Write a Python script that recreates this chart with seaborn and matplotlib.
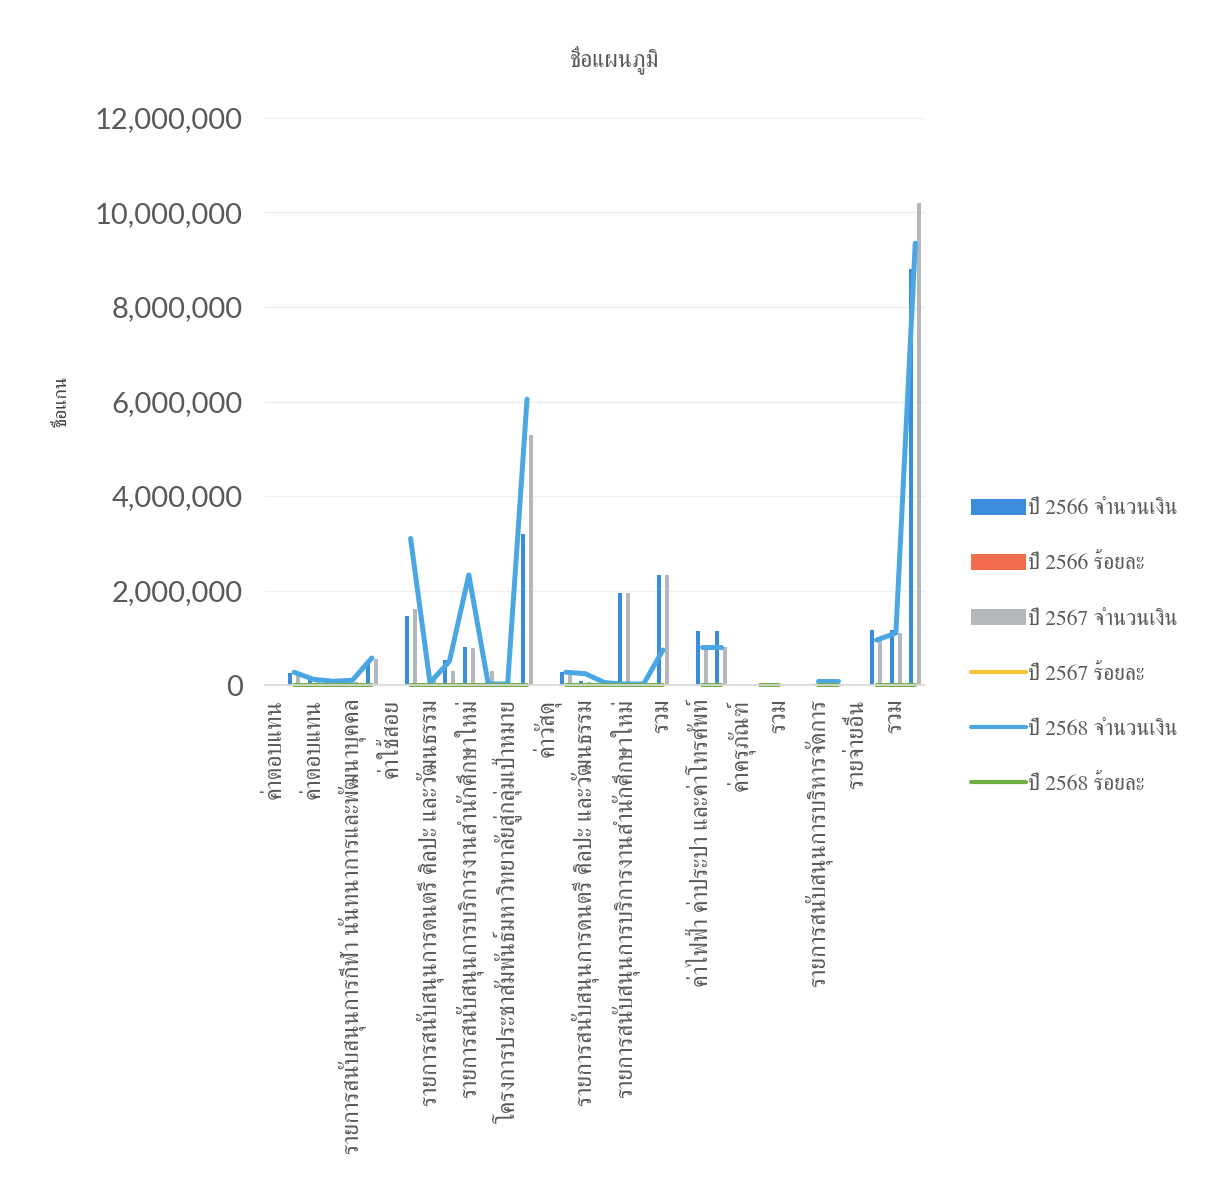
import numpy as np
import pandas as pd
import matplotlib
matplotlib.use("Agg")
import matplotlib.pyplot as plt
import seaborn as sns
from matplotlib.patches import Patch
from matplotlib.lines import Line2D
from matplotlib.ticker import FuncFormatter

nan = np.nan

# Budget rows (34 rows, header rows carry no values); every other row is labelled
row_labels = [
    "ค่าตอบแทน",
    "ค่าตอบแทน",
    "รายการสนับสนุนการกีฬา นันทนาการและพัฒนาบุคคล",
    "ค่าใช้สอย",
    "รายการสนับสนุนการดนตรี ศิลปะ และวัฒนธรรม",
    "รายการสนับสนุนการบริการงานสำนักศึกษาใหม่",
    "โครงการประชาสัมพันธ์มหาวิทยาลัยสู่กลุ่มเป้าหมาย",
    "ค่าวัสดุ",
    "รายการสนับสนุนการดนตรี ศิลปะ และวัฒนธรรม",
    "รายการสนับสนุนการบริการงานสำนักศึกษาใหม่",
    "รวม",
    "ค่าไฟฟ้า ค่าประปา และค่าโทรศัพท์",
    "ค่าครุภัณฑ์",
    "รวม",
    "รายการสนับสนุนการบริหารจัดการ",
    "รายจ่ายอื่น",
    "รวม",
]
n_rows = 34

amount_2566 = [nan, 250000, 100000, 40000, 50000, 500000, nan,
               1450000, 50000, 530000, 800000, 50000, 0, 3200000, nan,
               270000, 80000, 20000, 1940000, 20000, 2330000, nan,
               1150000, 1150000, nan, 0, 0, nan, 30000, 30000, nan,
               1160000, 1160000, 8800000]
pct_2566 = [nan, 2.8, 1.1, 0.4, 0.6, 5.4, nan,
            15.7, 0.5, 5.7, 8.7, 0.5, 0.0, 34.8, nan,
            2.9, 0.9, 0.2, 21.1, 0.2, 25.3, nan,
            12.5, 12.5, nan, 0.0, 0.0, nan, 0.3, 0.3, nan,
            12.6, 12.6, 100.0]
amount_2567 = [nan, 240000, 110000, 50000, 60000, 550000, nan,
               1600000, 100000, 300000, 780000, 300000, 0, 5300000, nan,
               250000, 70000, 20000, 1940000, 20000, 2330000, nan,
               800000, 800000, nan, 0, 0, nan, 30000, 30000, nan,
               1000000, 1100000, 10200000]
pct_2567 = [nan, 2.4, 1.1, 0.5, 0.6, 5.4, nan,
            15.7, 1.0, 2.9, 7.6, 2.9, 0.0, 52.0, nan,
            2.5, 0.7, 0.2, 19.0, 0.2, 22.8, nan,
            7.8, 7.8, nan, 0.0, 0.0, nan, 0.3, 0.3, nan,
            9.8, 10.8, 100.0]
amount_2568 = [nan, 270000, 120000, 80000, 100000, 570000, nan,
               3100000, 50000, 500000, 2330000, 20000, 20000, 6050000, nan,
               270000, 240000, 50000, 20000, 20000, 740000, nan,
               800000, 800000, nan, nan, nan, nan, 80000, 80000, nan,
               950000, 1100000, 9350000]
pct_2568 = [nan, 2.9, 1.3, 0.9, 1.1, 6.1, nan,
            33.2, 0.5, 5.3, 24.9, 0.2, 0.2, 64.7, nan,
            2.9, 2.6, 0.5, 0.2, 0.2, 7.9, nan,
            8.6, 8.6, nan, 0.0, 0.0, nan, 0.9, 0.9, nan,
            10.2, 11.8, 100.0]

series_names = ["ปี 2566 จำนวนเงิน", "ปี 2566 ร้อยละ", "ปี 2567 จำนวนเงิน",
                "ปี 2567 ร้อยละ", "ปี 2568 จำนวนเงิน", "ปี 2568 ร้อยละ"]
series_colors = ["#3A8DDB", "#F26D4B", "#B4B8BC", "#F2C43A", "#4BA7E4", "#6DAE45"]

THAI = ["FreeSerif"]
GREY_TXT = "#595959"

sns.set_theme(style="white")
plt.rcParams["font.family"] = ["Lato", "DejaVu Sans"]

fig = plt.figure(figsize=(12.07, 11.85), dpi=100)
ax = fig.add_axes([265 / 1207, 1 - 685 / 1185, 660 / 1207, 567 / 1185])

pos = np.arange(n_rows)

# clustered bars: 2566 amount, 2566 percent, 2567 amount
bar_df = pd.concat([
    pd.DataFrame({"pos": pos, "series": series_names[i], "value": vals})
    for i, vals in [(0, amount_2566), (1, pct_2566), (2, amount_2567)]
], ignore_index=True)
bar_df = bar_df.dropna()
sns.barplot(data=bar_df, x="pos", y="value", hue="series", order=list(pos),
            hue_order=series_names[:3], palette=series_colors[:3],
            width=0.62, errorbar=None, legend=False, saturation=1,
            linewidth=0, ax=ax)

# lines: 2567 percent, 2568 amount, 2568 percent (gaps at header rows)
line_specs = [(3, pct_2567, 2.6), (4, amount_2568, 3.6), (5, pct_2568, 2.8)]
for i, vals, lw in line_specs:
    df = pd.DataFrame({"pos": pos, "value": vals})
    df["seg"] = df["value"].isna().cumsum()
    df = df.dropna()
    sns.lineplot(data=df, x="pos", y="value", units="seg", estimator=None,
                 color=series_colors[i], linewidth=lw, ax=ax, sort=False)
for ln in ax.lines:
    ln.set_clip_on(False)
    ln.set_solid_capstyle("round")
    ln.set_solid_joinstyle("round")

ax.set_xlim(-0.5, n_rows - 0.5)
ax.set_ylim(0, 12000000)
ax.set_yticks(np.arange(0, 12000001, 2000000))
ax.yaxis.set_major_formatter(FuncFormatter(lambda v, p: f"{v:,.0f}"))
ax.grid(axis="y", color="#EFEFEF", linewidth=1)
ax.set_axisbelow(True)
for s in ["top", "right", "left"]:
    ax.spines[s].set_visible(False)
ax.spines["bottom"].set_color("#D9D9D9")

ax.tick_params(axis="y", length=0, pad=16, labelsize=21, labelcolor=GREY_TXT)
ax.set_xticks(np.arange(0, n_rows, 2))
ax.set_xticklabels(row_labels, rotation=90, family=THAI, fontsize=17,
                   color=GREY_TXT)
ax.tick_params(axis="x", length=0, pad=10)
ax.set_xlabel("")
ax.set_ylabel("ชื่อแกน", family=THAI, fontsize=14, color="#404040", labelpad=18)

fig.text(615 / 1207, 1 - 60 / 1185, "ชื่อแผนภูมิ", family=THAI, fontsize=17,
         color=GREY_TXT, ha="center", va="center")

handles = []
for i, c in enumerate(series_colors):
    if i < 3:
        handles.append(Patch(facecolor=c, edgecolor="none"))
    else:
        handles.append(Line2D([0], [0], color=c, linewidth=3))
fig.legend(handles, series_names, loc="upper left",
           bbox_to_anchor=(962 / 1207, 1 - 490 / 1185), frameon=False,
           prop={"family": THAI, "size": 15.5}, labelcolor=GREY_TXT,
           handlelength=2.55, handleheight=0.8, handletextpad=0.1,
           labelspacing=1.6, borderaxespad=0)

fig.savefig("out.png", dpi=100)
